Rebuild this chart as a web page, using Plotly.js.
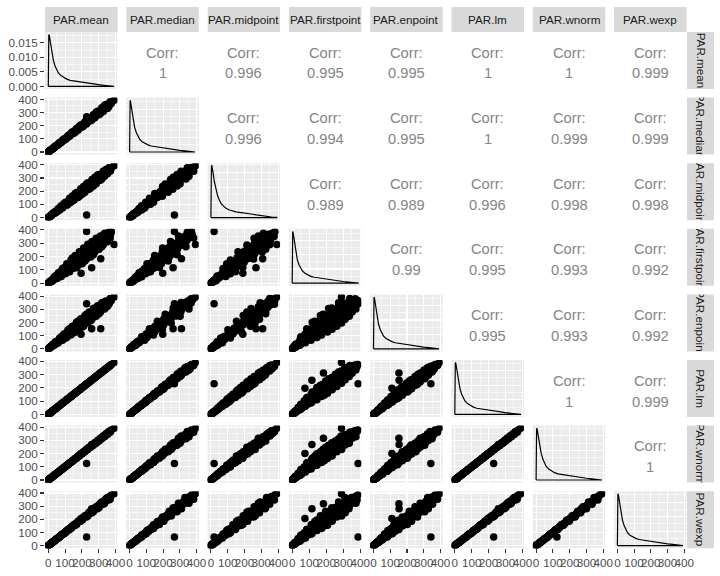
<!DOCTYPE html>
<html><head><meta charset="utf-8">
<script src="https://cdn.plot.ly/plotly-3.0.1.min.js"></script>
<style>html,body{margin:0;padding:0;background:#fff}</style>
</head><body><div id="chart" style="width:720px;height:576px"></div>
<script>
// ---------------- DATA ----------------
const varNames = ["PAR.mean","PAR.median","PAR.midpoint","PAR.firstpoint","PAR.enpoint","PAR.lm","PAR.wnorm","PAR.wexp"];

const parMean = [0,2,4,6,9,12,15,19,23,28,33,38,44,50,56,62,69,76,83,90,97,105,112,120,127,135,142,150,157,165,172,180,187,195,202,210,217,225,232,240,247,255,262,270,277,285,292,300,307,315,322,330,337,345,352,360,368,375, 228,392,312,258,195,
  1,3,5,8,11,14,17,21,26,31,36,41,47,53,59,66,73,80,87,94,101,109,116,124,131,139,146,154,161,169,176,184,191,199,206,214,221,229,236,244,251,259,266,274,281,289,296,304,311,319,326,334,341,349,356,364,371,
  10,18,27,35,43,52,60,68,77,85,93,102,110,118,127,135,143,152,160,168,177,185,193,202,210,218,227,235,243,252,260,268,277,285,293,302,310,318,327,335,343,352,360,368];
const parMedian = [0,2,4,6,9,12,16,19,24,27,34,37,45,49,57,61,71,75,85,88,99,103,115,118,130,132,146,147,161,162,176,177,192,191,207,206,222,221,237,235,253,250,268,265,283,280,298,295,313,310,328,325,343,340,358,355,374,370, 268,394,310,260,198,
  1,3,5,8,11,14,17,21,25,32,35,42,46,54,58,67,72,82,85,96,99,111,114,126,129,142,143,157,158,172,173,188,187,203,202,218,217,233,232,248,247,263,262,279,277,294,292,309,307,324,322,339,337,354,352,369,367,
  9,19,25,37,46,49,57,72,72,90,99,96,104,125,119,143,152,143,150,178,166,196,205,190,197,231,213,249,258,237,245,284,261,302,310,284,292,337,308,355,362,331,345,383];
const parMidpoint = [0,2,4,7,8,13,14,21,21,30,31,41,41,54,52,66,64,81,78,84,103,99,119,112,135,127,151,142,167,156,182,170,198,184,213,199,229,214,244,229,258,245,273,259,288,274,303,310,296,325,312,339,328,353,344,367,361,380, 19,392,308,268,190,
  1,3,5,8,12,13,16,22,27,29,34,43,50,50,56,70,77,76,82,99,106,103,110,131,138,132,139,162,169,160,167,194,201,189,196,225,232,218,224,256,263,246,253,287,295,275,282,318,325,305,312,348,354,336,343,376,360,
  12,15,31,40,37,44,69,58,89,72,107,116,94,101,146,116,163,131,182,190,152,161,218,176,235,192,254,263,214,224,289,239,305,257,322,326,282,293,350,312,364,331,378,350];
const parFirstpoint = [0,2,4,8,7,15,13,23,18,32,27,46,40,59,45,69,59,91,73,104,78,116,94,142,117,154,116,159,138,191,162,202,157,211,182,239,187,234,213,269,217,270,246,297,249,299,280,324,286,334,312,347,320,359,345,371,364,386, 388,290,184,116,75,
  1,3,5,9,10,14,18,20,26,34,32,42,50,50,59,73,66,82,92,89,101,121,104,126,139,132,146,171,145,172,187,175,191,221,185,218,234,218,236,271,226,264,282,260,281,312,272,310,323,303,326,354,321,356,367,349,371,
  13,13,19,46,54,35,78,49,51,111,116,71,146,86,86,173,189,112,208,118,133,235,235,145,263,166,182,291,287,197,312,214,233,336,334,254,353,273,288,375,370,310,382,339];
const parEnpoint = [0,2,5,5,11,10,18,16,27,25,38,33,52,44,62,53,80,70,94,76,104,92,130,110,145,117,152,132,178,150,190,162,206,178,222,192,234,207,248,222,262,238,278,254,292,268,305,285,322,300,334,316,348,333,360,350,372,368, 343,394,152,153,110,
  1,3,5,7,11,13,18,21,24,32,35,44,47,48,61,63,79,80,79,97,97,118,116,113,135,133,158,154,147,174,169,199,191,181,212,205,239,229,215,251,241,280,266,249,289,277,320,304,283,329,313,355,341,322,365,350,380,
  8,22,32,27,53,42,47,83,92,66,113,82,86,144,152,105,172,122,128,202,209,148,228,166,172,253,263,197,279,214,224,306,310,248,328,266,279,350,353,302,364,324,338,383];
const parLm = [0,2,4,6,9,12,15,19,24,28,33,38,45,50,56,63,69,76,84,90,97,106,112,120,128,135,142,151,157,165,173,180,187,196,202,210,218,225,232,241,247,255,263,270,277,286,292,300,308,315,322,331,337,345,353,360,368,376, 230,390,312,258,196,
  1,3,5,8,11,14,17,21,26,31,36,42,47,53,59,66,74,80,87,94,102,109,116,124,132,139,146,154,162,169,176,184,192,199,206,214,222,229,236,244,252,259,266,274,282,289,296,304,312,319,326,334,342,349,356,364,372,
  10,18,27,35,43,52,61,68,77,85,94,102,110,119,127,135,144,152,160,169,177,185,194,202,210,219,227,235,244,252,260,269,277,285,294,302,310,319,327,335,344,352,360,369];
const parWnorm = [0,2,4,6,9,12,15,19,24,28,33,39,44,51,56,63,69,77,83,91,97,106,112,121,127,136,142,152,157,167,172,182,187,197,202,212,217,228,232,243,247,258,262,273,277,288,292,303,307,318,322,333,337,348,352,363,368,378, 124,392,316,268,201,
  1,3,5,8,11,14,17,21,26,31,36,41,47,53,60,66,74,80,88,94,102,109,117,124,132,139,147,154,163,169,178,184,193,199,208,214,223,229,238,244,253,259,268,274,283,289,298,304,313,319,328,334,343,349,358,364,373,
  10,18,28,34,44,51,61,67,79,83,95,100,112,116,130,132,146,149,163,165,181,181,197,198,214,214,232,230,248,247,265,263,282,279,299,296,316,312,333,328,350,345,367,361];
const parWexp = [0,2,4,6,9,12,16,19,23,29,33,39,44,52,56,64,68,78,82,93,96,108,110,124,125,139,140,154,155,170,170,185,185,200,200,216,215,231,230,246,245,262,260,277,275,292,290,308,305,323,320,339,335,354,350,369,366,385, 66,394,318,280,206,
  1,3,5,8,11,14,17,21,26,31,37,41,48,53,60,66,75,80,89,94,103,110,118,125,134,140,149,155,164,170,179,185,194,200,209,215,224,230,239,245,254,260,269,275,284,290,299,305,314,320,329,335,344,350,359,365,374,
  10,19,26,34,45,54,58,66,80,88,90,98,114,123,122,130,149,158,154,161,184,192,185,194,218,227,218,226,253,262,250,257,288,296,281,290,322,331,314,322,357,366,346,353];

// density curves (diagonal)
const densX = [0,3,6,10,15,20,30,40,50,60,75,90,110,130,150,170,190,210,240,270,300,330,360,392];
const densMean = [0.0160,0.0178,0.0175,0.0161,0.0139,0.0118,0.0090,0.0070,0.0056,0.0046,0.0037,0.0031,0.0025,0.0021,0.0019,0.0018,0.0017,0.0015,0.0012,0.0009,0.0006,0.0004,0.0002,0.0001];
const densMedian = [0.0168,0.0181,0.0174,0.0157,0.0134,0.0113,0.0087,0.0068,0.0055,0.0045,0.0036,0.0030,0.0025,0.0021,0.0019,0.0018,0.0016,0.0014,0.0011,0.0008,0.0006,0.0004,0.0002,0.0001];
const densMidpoint = [0.0150,0.0170,0.0171,0.0160,0.0140,0.0120,0.0092,0.0072,0.0058,0.0047,0.0038,0.0031,0.0025,0.0021,0.0019,0.0017,0.0016,0.0014,0.0012,0.0009,0.0006,0.0004,0.0002,0.0001];
const densFirstpoint = [0.0165,0.0182,0.0176,0.0158,0.0133,0.0110,0.0083,0.0065,0.0052,0.0043,0.0035,0.0029,0.0024,0.0021,0.0019,0.0018,0.0016,0.0014,0.0011,0.0009,0.0006,0.0004,0.0003,0.0001];
const densEnpoint = [0.0162,0.0180,0.0175,0.0159,0.0136,0.0114,0.0086,0.0067,0.0054,0.0044,0.0036,0.0030,0.0025,0.0021,0.0019,0.0018,0.0016,0.0014,0.0011,0.0009,0.0006,0.0004,0.0002,0.0001];
const densLm = [0.0158,0.0177,0.0175,0.0162,0.0140,0.0118,0.0090,0.0070,0.0056,0.0046,0.0037,0.0031,0.0025,0.0021,0.0019,0.0018,0.0017,0.0015,0.0012,0.0009,0.0006,0.0004,0.0002,0.0001];
const densWnorm = [0.0158,0.0176,0.0174,0.0161,0.0139,0.0118,0.0091,0.0071,0.0056,0.0046,0.0037,0.0031,0.0025,0.0021,0.0019,0.0018,0.0016,0.0015,0.0012,0.0009,0.0006,0.0004,0.0002,0.0001];
const densWexp = [0.0161,0.0179,0.0175,0.0160,0.0137,0.0116,0.0089,0.0069,0.0055,0.0045,0.0036,0.0030,0.0025,0.0021,0.0019,0.0018,0.0017,0.0015,0.0012,0.0009,0.0006,0.0004,0.0002,0.0001];

// correlations (upper triangle, row by row)
const corrRow1 = ["1","0.996","0.995","0.995","1","1","0.999"];
const corrRow2 = ["0.996","0.994","0.995","1","0.999","0.999"];
const corrRow3 = ["0.989","0.989","0.996","0.998","0.998"];
const corrRow4 = ["0.99","0.995","0.993","0.992"];
const corrRow5 = ["0.995","0.993","0.992"];
const corrRow6 = ["1","0.999"];
const corrRow7 = ["1"];

const xTickVals = [0,100,200,300,400];
const xMinorVals = [50,150,250,350];
const densTickVals = [0,0.005,0.010,0.015];
const densMinorVals = [0.0025,0.0075,0.0125,0.0175];

// ---------------- BUILD ----------------
const series = [parMean,parMedian,parMidpoint,parFirstpoint,parEnpoint,parLm,parWnorm,parWexp];
const dens = [densMean,densMedian,densMidpoint,densFirstpoint,densEnpoint,densLm,densWnorm,densWexp];
const corr = [corrRow1,corrRow2,corrRow3,corrRow4,corrRow5,corrRow6,corrRow7];

const W = 720, H = 576;
const colLeft = c => 45 + c*81.3, colW = 72.5;
const rowTop = r => 32 + r*65.6, rowH = 57;
const FONT = "Liberation Sans, Arial, sans-serif";
const tickFont = {family:FONT,size:11.7,color:'#4D4D4D'};

function rng(a){ const mn=Math.min(...a), mx=Math.max(...a), s=mx-mn; return [mn-0.05*s, mx+0.05*s]; }
const ranges = series.map(rng);

const data = [], shapes = [], annotations = [];
const layout = {
  width: W, height: H, margin:{l:0,r:0,t:0,b:0}, autosize:false,
  paper_bgcolor:'#ffffff', plot_bgcolor:'rgba(0,0,0,0)', showlegend:false,
  font:{family:FONT}
};

for (let r=0;r<8;r++){
  for (let c=0;c<8;c++){
    const k = r*8+c+1;
    const xn = k===1?'x':'x'+k, yn = k===1?'y':'y'+k;
    const upper = c>r, diag = r===c;
    const gc = upper ? '#DCDCDC' : '#FFFFFF';
    const x0 = colLeft(c)/W, x1 = (colLeft(c)+colW)/W;
    const yTop = rowTop(r), yBot = rowTop(r)+rowH;
    const xa = {
      domain:[x0,x1], range: ranges[c], anchor: yn, zeroline:false, showline:false,
      tickmode:'array', tickvals: xTickVals, tickangle:0, showgrid:true, gridcolor:gc, gridwidth:1.1,
      minor:{tickmode:'array', tickvals:xMinorVals, showgrid:true, gridcolor:gc, gridwidth:0.55, ticks:''},
      showticklabels: r===7, ticks: r===7?'outside':'', ticklen:4, tickwidth:1.1, tickcolor:'#333333',
      tickfont:tickFont
    };
    let ya;
    if (diag){
      const dm = Math.max(...dens[r]);
      ya = {
        domain:[1-yBot/H, 1-yTop/H], range:[-0.05*dm, 1.05*dm], anchor:xn, zeroline:false, showline:false,
        tickmode:'array', tickvals: densTickVals, tickformat:'.3f', showgrid:true, gridcolor:gc, gridwidth:1.1,
        minor:{tickmode:'array', tickvals:densMinorVals, showgrid:true, gridcolor:gc, gridwidth:0.55, ticks:''},
        showticklabels: c===0, ticks: c===0?'outside':'', ticklen:4, tickwidth:1.1, tickcolor:'#333333',
        tickfont:tickFont
      };
    } else {
      ya = {
        domain:[1-yBot/H, 1-yTop/H], range: ranges[r], anchor:xn, zeroline:false, showline:false,
        tickmode:'array', tickvals: xTickVals, showgrid:true, gridcolor:gc, gridwidth:1.1,
        minor:{tickmode:'array', tickvals:xMinorVals, showgrid:true, gridcolor:gc, gridwidth:0.55, ticks:''},
        showticklabels: c===0, ticks: c===0?'outside':'', ticklen:4, tickwidth:1.1, tickcolor:'#333333',
        tickfont:tickFont
      };
    }
    layout[k===1?'xaxis':'xaxis'+k] = xa;
    layout[k===1?'yaxis':'yaxis'+k] = ya;

    if (!upper){
      shapes.push({type:'rect', xref: xn+' domain', yref: yn+' domain', x0:0,x1:1,y0:0,y1:1,
        fillcolor:'#EBEBEB', line:{width:0}, layer:'below'});
    }
    if (diag){
      const dx = densX, dy = dens[r];
      data.push({type:'scatter', mode:'lines', xaxis:xn, yaxis:yn,
        x:[dx[0]].concat(dx,[dx[dx.length-1], dx[0]]),
        y:[0].concat(dy,[0,0]),
        line:{color:'#000000', width:1.2}, hoverinfo:'skip'});
    } else if (!upper){
      data.push({type:'scatter', mode:'markers', xaxis:xn, yaxis:yn,
        x: series[c], y: series[r],
        marker:{color:'#000000', size:7.5, line:{width:0}}, hoverinfo:'skip'});
    } else {
      const cx = (colLeft(c)+colW/2)/W;
      const val = corr[r][c-r-1];
      annotations.push({xref:'paper', yref:'paper', x:cx, y:1-(yTop+20.5)/H, text:'Corr:',
        showarrow:false, xanchor:'center', yanchor:'middle', font:{family:FONT,size:14.7,color:'#858585'}});
      annotations.push({xref:'paper', yref:'paper', x:cx, y:1-(yTop+41.5)/H, text:val,
        showarrow:false, xanchor:'center', yanchor:'middle', font:{family:FONT,size:14.7,color:'#858585'}});
    }
  }
}

// strips
for (let i=0;i<8;i++){
  shapes.push({type:'rect', xref:'paper', yref:'paper', x0:colLeft(i)/W, x1:(colLeft(i)+colW)/W,
    y0:1-32/H, y1:1-7/H, fillcolor:'#D9D9D9', line:{width:0}, layer:'above'});
  annotations.push({xref:'paper', yref:'paper', x:(colLeft(i)+colW/2)/W, y:1-20/H, text:varNames[i],
    showarrow:false, xanchor:'center', yanchor:'middle', font:{family:FONT,size:11.7,color:'#1A1A1A'}});
  shapes.push({type:'rect', xref:'paper', yref:'paper', x0:687/W, x1:714/W,
    y0:1-(rowTop(i)+rowH)/H, y1:1-rowTop(i)/H, fillcolor:'#D9D9D9', line:{width:0}, layer:'above'});
  annotations.push({xref:'paper', yref:'paper', x:700.5/W, y:1-(rowTop(i)+rowH/2)/H, text:varNames[i],
    showarrow:false, xanchor:'center', yanchor:'middle', textangle:90, width:rowH, height:24,
    font:{family:FONT,size:11.7,color:'#1A1A1A'}});
}

layout.shapes = shapes;
layout.annotations = annotations;

Plotly.newPlot('chart', data, layout, {displayModeBar:false, staticPlot:true});
</script>
</body></html>
